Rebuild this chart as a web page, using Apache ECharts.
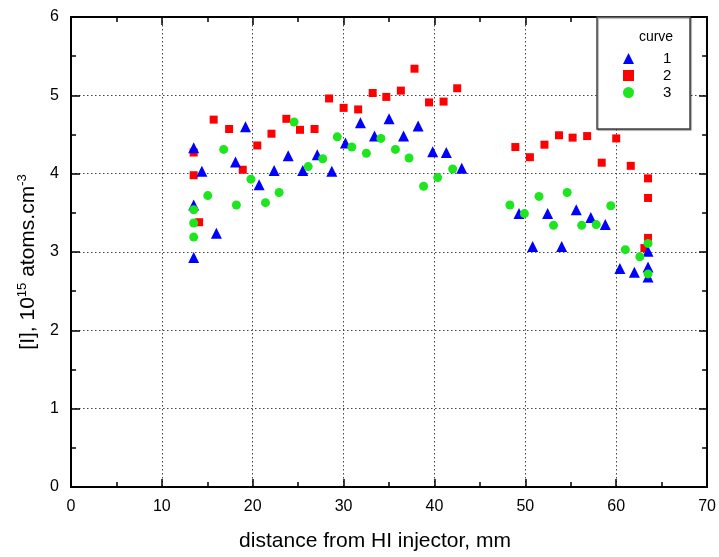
<!DOCTYPE html>
<html>
<head>
<meta charset="utf-8">
<script src="https://cdn.jsdelivr.net/npm/echarts@6/dist/echarts.min.js"></script>
<style>
html, body { margin: 0; padding: 0; background: #fff; }
#chart { width: 719px; height: 557px; }
</style>
</head>
<body>
<div id="chart"></div>
<script>
// [distance mm, concentration 1e15 atoms/cm3]
var curve1 = [
    [13.5, 4.33], [13.5, 3.60], [13.5, 2.93], [14.4, 4.03], [16.0, 3.24], [18.1, 4.15],
    [19.2, 4.60], [20.7, 3.86], [22.35, 4.04], [23.9, 4.23], [25.5, 4.04], [27.1, 4.24],
    [28.7, 4.03], [30.2, 4.39], [31.85, 4.65], [33.4, 4.48], [35.0, 4.70], [36.6, 4.48],
    [38.2, 4.61], [39.8, 4.28], [41.3, 4.27], [43.0, 4.07], [49.3, 3.49], [50.8, 3.07],
    [52.45, 3.49], [54.0, 3.07], [55.6, 3.54], [57.2, 3.44], [58.8, 3.35], [60.4, 2.79],
    [62.0, 2.74], [63.5, 3.01], [63.5, 2.81], [63.5, 2.68]
];
var curve2 = [
    [13.5, 4.27], [13.5, 3.98], [14.1, 3.38], [15.7, 4.69], [17.4, 4.57], [18.9, 4.05],
    [20.5, 4.36], [22.06, 4.51], [23.7, 4.70], [25.2, 4.56], [26.8, 4.57], [28.4, 4.96],
    [30.0, 4.84], [31.6, 4.82], [33.2, 5.03], [34.7, 4.98], [36.3, 5.06], [37.8, 5.34],
    [39.4, 4.91], [41.0, 4.92], [42.5, 5.09], [48.9, 4.34], [50.5, 4.21], [52.1, 4.37],
    [53.7, 4.49], [55.2, 4.46], [56.8, 4.48], [58.4, 4.14], [60.0, 4.45], [61.6, 4.10],
    [63.5, 3.94], [63.5, 3.69], [63.5, 3.18], [63.1, 3.05]
];
var curve3 = [
    [13.5, 3.54], [13.5, 3.37], [13.5, 3.19], [15.05, 3.72], [16.8, 4.31], [18.2, 3.60],
    [19.8, 3.93], [21.4, 3.63], [22.9, 3.76], [24.55, 4.66], [26.1, 4.09], [27.7, 4.19],
    [29.3, 4.47], [30.9, 4.34], [32.5, 4.26], [34.1, 4.45], [35.7, 4.31], [37.2, 4.20],
    [38.8, 3.84], [40.35, 3.95], [42.0, 4.06], [48.3, 3.60], [49.9, 3.49], [51.5, 3.71],
    [53.1, 3.34], [54.6, 3.76], [56.2, 3.34], [57.8, 3.35], [59.4, 3.59], [61.0, 3.03],
    [62.6, 2.94], [63.5, 3.11], [63.5, 2.72]
];
var curveNames = ['1', '2', '3'];

var font = "'Liberation Sans', Arial, sans-serif";
var chart = echarts.init(document.getElementById('chart'));

// top/right axes only close the frame
function frameAxis(pos) {
    return {
        position: pos,
        axisLine: { show: true, onZero: false, lineStyle: { color: '#000', width: 2 } },
        axisTick: { show: true, inside: true, length: 8, lineStyle: { color: '#000', width: 1.5 } },
        minorTick: { show: true, splitNumber: 2, length: 5, lineStyle: { color: '#000', width: 1.5 } },
        axisLabel: { show: false },
        splitLine: { show: false }
    };
}

var xTop = frameAxis('top');
xTop.type = 'value'; xTop.min = 0; xTop.max = 70; xTop.interval = 10;
var yRight = frameAxis('right');
yRight.type = 'value'; yRight.min = 0; yRight.max = 6; yRight.interval = 1;

var option = {
    backgroundColor: '#fff',
    animation: false,
    grid: { left: 71, right: 11, top: 17, bottom: 69 },
    legend: {
        orient: 'vertical',
        left: 618,
        top: 46,
        z: 20,
        itemWidth: 11,
        itemHeight: 11,
        itemGap: 2,
        textStyle: { fontFamily: font, fontSize: 15, color: '#000', padding: [0, 0, 0, 24] },
        data: [
            { name: '1', icon: 'triangle' },
            { name: '2', icon: 'rect' },
            { name: '3', icon: 'circle' }
        ]
    },
    graphic: [
        {
            type: 'rect',
            z: 1,
            shape: { x: 597, y: 17, width: 93, height: 112 },
            style: { fill: '#fff', stroke: '#444', lineWidth: 1.5, shadowColor: 'rgba(0,0,0,0.35)', shadowOffsetX: 1, shadowOffsetY: 1, shadowBlur: 1 }
        },
        {
            type: 'text',
            z: 30,
            x: 656, y: 37,
            style: { text: 'curve', fontFamily: font, fontSize: 14, fill: '#000', align: 'center', verticalAlign: 'middle' }
        }
    ],
    xAxis: [
        {
            type: 'value',
            min: 0, max: 70, interval: 10,
            position: 'bottom',
            name: 'distance from HI injector, mm',
            nameLocation: 'middle',
            nameGap: 44,
            nameTextStyle: { fontFamily: font, fontSize: 21, color: '#000', padding: [0, 28, 0, 0] },
            axisLine: { show: true, onZero: false, lineStyle: { color: '#000', width: 2 } },
            axisTick: { show: true, inside: true, length: 8, lineStyle: { color: '#000', width: 1.5 } },
            minorTick: { show: true, splitNumber: 2, length: 5, lineStyle: { color: '#000', width: 1.5 } },
            axisLabel: { fontFamily: font, fontSize: 16, color: '#000', margin: 12, showMinLabel: true, showMaxLabel: true },
            splitLine: { show: true, lineStyle: { color: '#444', type: [1.5, 2.5], width: 1 } }
        },
        xTop
    ],
    yAxis: [
        {
            type: 'value',
            min: 0, max: 6, interval: 1,
            position: 'left',
            name: '[I], 10{sup|15} atoms.cm{sup|-3}',
            nameLocation: 'middle',
            nameGap: 30,
            nameTextStyle: {
                fontFamily: font, fontSize: 21, color: '#000',
                padding: [0, 20, 0, 0],
                rich: { sup: { fontFamily: font, fontSize: 13, color: '#000', verticalAlign: 'top', padding: [0, 0, 12, 0] } }
            },
            axisLine: { show: true, onZero: false, lineStyle: { color: '#000', width: 2 } },
            axisTick: { show: true, inside: true, length: 9, lineStyle: { color: '#000', width: 1.5 } },
            minorTick: { show: true, splitNumber: 2, length: 5, lineStyle: { color: '#000', width: 1.5 } },
            axisLabel: { fontFamily: font, fontSize: 16, color: '#000', margin: 12 },
            splitLine: { show: true, lineStyle: { color: '#444', type: [1.5, 2.5], width: 1 } }
        },
        yRight
    ],
    series: [
        {
            name: curveNames[0],
            type: 'scatter',
            symbol: 'triangle',
            symbolSize: 11,
            itemStyle: { color: '#0000ff', opacity: 1 },
            data: curve1,
            z: 3
        },
        {
            name: curveNames[1],
            type: 'scatter',
            symbol: 'rect',
            symbolSize: 8,
            itemStyle: { color: '#ff0000', opacity: 1 },
            data: curve2,
            z: 2
        },
        {
            name: curveNames[2],
            type: 'scatter',
            symbol: 'circle',
            symbolSize: 9,
            itemStyle: { color: '#1ee61e', opacity: 1 },
            data: curve3,
            z: 4
        }
    ]
};

chart.setOption(option);
</script>
</body>
</html>
